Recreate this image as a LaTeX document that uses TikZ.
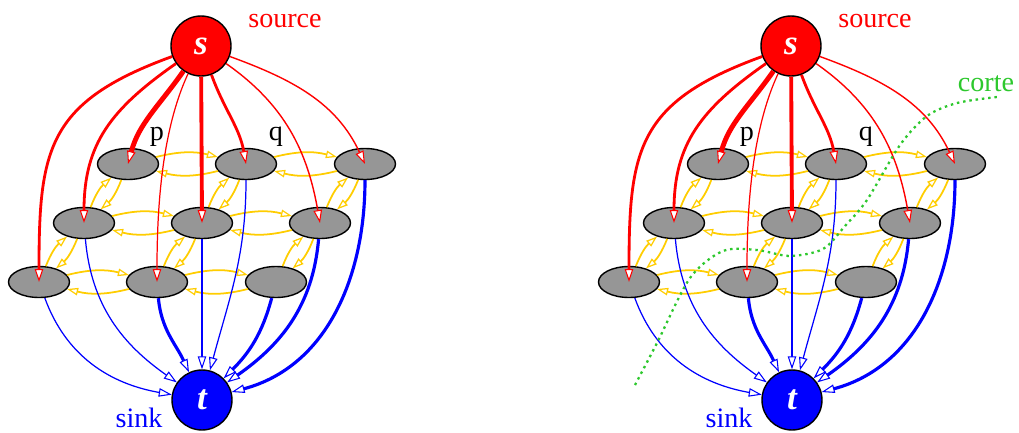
\documentclass[tikz,border=0pt]{standalone}
\usepackage{fontspec}
\setmainfont{Liberation Serif}
\usepackage{xcolor}
\usetikzlibrary{arrows.meta,shapes.geometric}

\definecolor{capyellow}{RGB}{255,205,0}
\definecolor{cutgreen}{RGB}{45,200,45}
\definecolor{pixgray}{RGB}{150,150,150}

\begin{document}
\begin{tikzpicture}[
  x=0.02cm,y=-0.02cm,
  term/.style={circle,draw=black,thick,minimum size=1.2cm,inner sep=0pt,text=white,font=\fontsize{20}{22}\selectfont\bfseries\itshape},
  pix/.style={ellipse,draw=black,thick,fill=pixgray,minimum width=1.22cm,minimum height=0.62cm,inner sep=0pt},
  lab/.style={font=\fontsize{16}{18}\selectfont,inner sep=0pt},
  src/.style={red,-{Triangle[length=2.6mm,width=1.7mm,fill=white,line width=0.6pt]}},
  snk/.style={blue,-{Triangle[length=2.6mm,width=1.7mm,fill=white,line width=0.6pt]}},
  nbr/.style={capyellow,line width=1pt,-{Triangle[length=2.2mm,width=1.5mm,fill=white,line width=0.7pt]}},
  cutline/.style={cutgreen,line width=1.3pt,dash pattern=on 1.4pt off 2.2pt}
]
\useasboundingbox (0,0) rectangle (1019,433);

\foreach \pre/\dx in {L/0,R/590} {
\begin{scope}[shift={(\dx,0)}]
% terminals
\node[term,fill=red] (\pre-s) at (201,46) {s};
\node[term,fill=blue] (\pre-t) at (202,400) {t};
\node[lab,red] (\pre-srclab) at (285,21) {source};
\node[lab,blue] (\pre-snklab) at (139,418) {sink};
% pixels
\node[pix] (\pre-n11) at (128,164) {};
\node[pix] (\pre-n12) at (246,164) {};
\node[pix] (\pre-n13) at (365,164) {};
\node[pix] (\pre-n21) at (84,223) {};
\node[pix] (\pre-n22) at (202,223) {};
\node[pix] (\pre-n23) at (320,223) {};
\node[pix] (\pre-n31) at (39,282) {};
\node[pix] (\pre-n32) at (157,282) {};
\node[pix] (\pre-n33) at (276,282) {};
\node[lab] (\pre-plab) at (157,137) {p};
\node[lab] (\pre-qlab) at (276,137) {q};
% neighbour links
\foreach \u/\v in {n11/n12,n12/n13,n21/n22,n22/n23,n31/n32,n32/n33,n11/n21,n12/n22,n13/n23,n21/n31,n22/n32,n23/n33} {
  \draw[nbr] (\pre-\u) to[bend left=14] (\pre-\v);
  \draw[nbr] (\pre-\v) to[bend left=14] (\pre-\u);
}
% source links
\draw[src,line width=1.6pt] (\pre-s) to[out=200,in=90,looseness=1.3] (\pre-n31.center);
\draw[src,line width=1.6pt] (\pre-s) to[out=215,in=90,looseness=1.1] (\pre-n21.center);
\draw[src,line width=2.8pt] (\pre-s) to[out=235,in=75] (\pre-n11.center);
\draw[src,line width=0.7pt] (\pre-s) to[out=245,in=90,looseness=0.8] (\pre-n32.center);
\draw[src,line width=2.2pt] (\pre-s) -- (\pre-n22.center);
\draw[src,line width=1.6pt] (\pre-s) to[out=-70,in=100] (\pre-n12.center);
\draw[src,line width=0.8pt] (\pre-s) to[out=-35,in=100] (\pre-n23.center);
\draw[src,line width=0.8pt] (\pre-s) to[out=-20,in=115] (\pre-n13.center);
% sink links
\draw[snk,line width=0.7pt] (\pre-n31) to[out=-70,in=170] (\pre-t);
\draw[snk,line width=0.7pt] (\pre-n21) to[out=-85,in=145] (\pre-t);
\draw[snk,line width=1.8pt] (\pre-n32) to[out=-85,in=115] (\pre-t);
\draw[snk,line width=0.7pt] (\pre-n22) -- (\pre-t);
\draw[snk,line width=0.7pt] (\pre-n12) to[out=-90,in=75] (\pre-t);
\draw[snk,line width=1.8pt] (\pre-n33) to[out=-105,in=45] (\pre-t);
\draw[snk,line width=1.8pt] (\pre-n23) to[out=-95,in=35] (\pre-t);
\draw[snk,line width=1.8pt] (\pre-n13) to[out=-90,in=15] (\pre-t);
\end{scope}
}

% the cut
\draw[cutline] plot[smooth] coordinates {(635,385) (657,343) (690,278) (723,251) (757,250) (790,256) (823,249) (845,226) (867,200) (900,145) (927,116) (957,103) (997,97)};
\node[lab,text=cutgreen] (corte) at (986,84) {corte};
\end{tikzpicture}
\end{document}
